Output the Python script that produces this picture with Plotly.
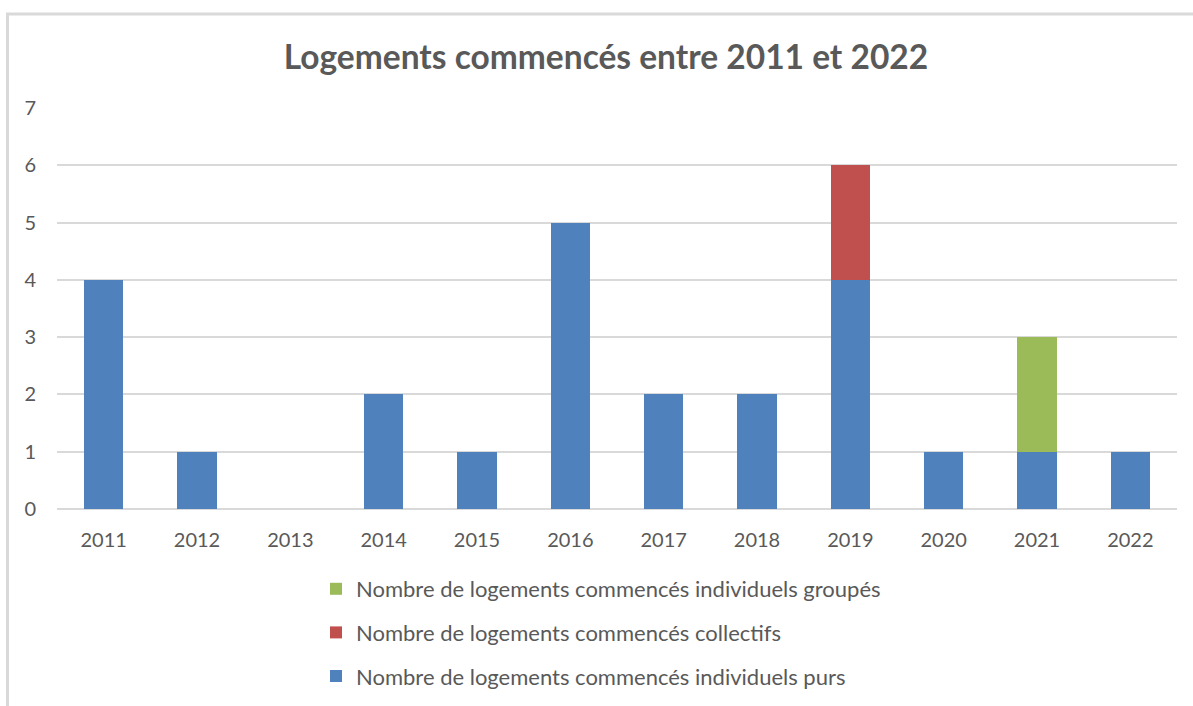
import plotly.graph_objects as go

annees = ["2011", "2012", "2013", "2014", "2015", "2016",
          "2017", "2018", "2019", "2020", "2021", "2022"]
individuels_purs = [4, 1, 0, 2, 1, 5, 2, 2, 4, 1, 1, 1]
collectifs = [0, 0, 0, 0, 0, 0, 0, 0, 2, 0, 0, 0]
individuels_groupes = [0, 0, 0, 0, 0, 0, 0, 0, 0, 0, 2, 0]

series = [
    ("Nombre de logements commencés individuels purs", individuels_purs, "#4f81bd"),
    ("Nombre de logements commencés collectifs", collectifs, "#c0504d"),
    ("Nombre de logements commencés individuels groupés", individuels_groupes, "#9bbb59"),
]

FONT = "Lato"
TXT = "#595959"
GRID = "#d9d9d9"

fig = go.Figure()
n = len(series)
for i, (nom, vals, coul) in enumerate(series):
    fig.add_trace(go.Bar(
        x=annees, y=vals, name=nom, marker=dict(color=coul, line=dict(width=0)),
        legendgroup=f"g{i}", legendrank=1000 + (n - i),
    ))

W, H = 1193, 706
ml, mr, mt, mb = 57, 16, 108, 197
pw = W - ml - mr
ph = H - mt - mb

def px_x(p):
    return (p - ml) / pw

def px_y(p):
    return (H - mb - p) / ph

fig.update_layout(
    width=W, height=H,
    margin=dict(l=ml, r=mr, t=mt, b=mb, autoexpand=False),
    paper_bgcolor="white", plot_bgcolor="white",
    barmode="stack", bargap=0.58,
    font=dict(family=FONT, color=TXT, size=20),
    title=dict(
        text="<b>Logements commencés entre 2011 et 2022</b>",
        x=px_x(606), xref="paper", xanchor="center",
        y=1 - 57 / H, yref="container", yanchor="middle",
        font=dict(family=FONT, size=33.5, color=TXT),
    ),
    xaxis=dict(
        type="category", showgrid=False, zeroline=False, showline=False,
        ticks="", ticklabelstandoff=17, tickfont=dict(size=20, color=TXT),
    ),
    yaxis=dict(
        range=[0, 7], dtick=1, showgrid=True, gridcolor=GRID, gridwidth=2,
        zeroline=True, zerolinecolor=GRID, zerolinewidth=2,
        showline=False, ticks="", ticklabelstandoff=20,
        tickfont=dict(size=20, color=TXT),
    ),
    legend=dict(
        orientation="v", traceorder="grouped",
        x=px_x(316), xanchor="left",
        y=px_y(568), yanchor="top",
        font=dict(family=FONT, size=22, color=TXT),
        tracegroupgap=12, itemwidth=30,
        bgcolor="rgba(0,0,0,0)",
    ),
    showlegend=True,
    shapes=[dict(
        type="rect", xref="paper", yref="paper",
        x0=px_x(7.5), x1=px_x(1260), y0=px_y(14), y1=px_y(800),
        line=dict(color=GRID, width=3), fillcolor="rgba(0,0,0,0)", layer="below",
    )],
)

fig.write_html("out.html")
